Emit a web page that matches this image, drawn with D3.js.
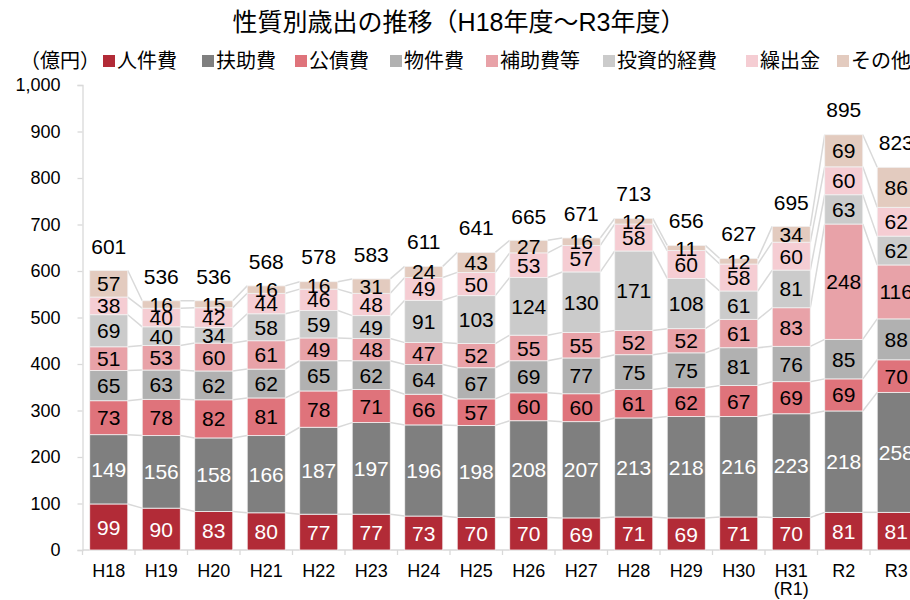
<!DOCTYPE html>
<html><head><meta charset="utf-8">
<script src="https://cdn.jsdelivr.net/npm/d3@7"></script>
<style>
html,body{margin:0;padding:0;background:#fff;overflow:hidden;}
text{font-family:"Liberation Sans","Noto Sans CJK JP",Arial,sans-serif;fill:#000;}
</style></head>
<body><svg id="chart" width="910" height="600"></svg>
<script>
const categories = ["H18","H19","H20","H21","H22","H23","H24","H25","H26","H27","H28","H29","H30","H31\n(R1)","R2","R3"];
const seriesNames = ["人件費","扶助費","公債費","物件費","補助費等","投資的経費","繰出金","その他"];
const jinkenhi   = [99,90,83,80,77,77,73,70,70,69,71,69,71,70,81,81];
const fujohi     = [149,156,158,166,187,197,196,198,208,207,213,218,216,223,218,258];
const kosaihi    = [73,78,82,81,78,71,66,57,60,60,61,62,67,69,69,70];
const bukkenhi   = [65,63,62,62,65,62,64,67,69,77,75,75,81,76,85,88];
const hojohi     = [51,53,60,61,49,48,47,52,55,55,52,52,61,83,248,116];
const toshiteki  = [69,40,34,58,59,49,91,103,124,130,171,108,61,81,63,62];
const kuridashi  = [38,40,42,44,46,48,49,50,53,57,58,60,58,60,60,62];
const sonota     = [57,16,15,16,16,31,24,43,27,16,12,11,12,34,69,86];
const totals     = [601,536,536,568,578,583,611,641,665,671,713,656,627,695,895,823];
const yTicks     = [0,100,200,300,400,500,600,700,800,900,1000];

const seriesValues = [jinkenhi,fujohi,kosaihi,bukkenhi,hojohi,toshiteki,kuridashi,sonota];
const colors = ["#b22b37","#7f7f7f","#df737b","#b1b1b1","#e8a2a8","#cbcbcb","#f5cdd3","#e3cbbf"];
const labelColors = ["#fff","#fff","#000","#000","#000","#000","#000","#000"];

const svg = d3.select("#chart");
const mLeft = 82.5, mTop = 85, mBottom = 550;
const step = 52.5;
const x = d3.scaleBand().domain(categories).range([mLeft, mLeft + step*categories.length]).paddingInner(0.275).paddingOuter(0.1375);
const y = d3.scaleLinear().domain([0,1000]).range([mBottom, mTop]);

// stack data
const rows = categories.map((c,i) => {
  const o = {cat:c};
  seriesNames.forEach((s,k) => o[s] = seriesValues[k][i]);
  return o;
});
const stacked = d3.stack().keys(seriesNames)(rows);

// axes
const yAxis = svg.append("g").attr("transform", `translate(${mLeft},0)`)
  .call(d3.axisLeft(y).tickValues(yTicks).tickFormat(d3.format(",")).tickSize(5).tickPadding(17));
yAxis.selectAll("path,line").attr("stroke","#d9d9d9").attr("stroke-width",1.3);
yAxis.selectAll("text").attr("font-size",18).style("fill","#000");

const xg = svg.append("g").attr("transform", `translate(0,${mBottom})`);
xg.append("line").attr("x1",mLeft).attr("x2",910).attr("y1",0).attr("y2",0).attr("stroke","#d9d9d9").attr("stroke-width",1.3);
const bounds = categories.map((c,i)=> x(c) - x.step()*x.paddingInner()/2).concat([x(categories[categories.length-1]) + x.bandwidth() + x.step()*x.paddingInner()/2]);
xg.selectAll(".tk").data(bounds).join("line").attr("x1",d=>d).attr("x2",d=>d).attr("y1",0).attr("y2",5).attr("stroke","#d9d9d9").attr("stroke-width",1.3);
const xl = xg.selectAll(".xl").data(categories).join("text")
  .attr("text-anchor","middle").attr("font-size",18)
  .attr("x", d => x(d) + x.bandwidth()/2).attr("y", 27);
xl.each(function(d){
  const t = d3.select(this);
  d.split("\n").forEach((line,j)=>{
    t.append("tspan").attr("x", x(d)+x.bandwidth()/2).attr("dy", j===0?0:18).text(line);
  });
});

// connector lines
const conn = svg.append("g");
stacked.forEach(layer => {
  for (let i = 0; i < categories.length - 1; i++) {
    conn.append("line")
      .attr("x1", x(categories[i]) + x.bandwidth()).attr("y1", y(layer[i][1]))
      .attr("x2", x(categories[i+1])).attr("y2", y(layer[i+1][1]))
      .attr("stroke","#d9d9d9").attr("stroke-width",1.5);
  }
});

// bars
const gBars = svg.append("g");
stacked.forEach((layer,k) => {
  gBars.selectAll(null).data(layer).join("rect")
    .attr("x", (d,i) => x(categories[i]))
    .attr("width", x.bandwidth())
    .attr("y", d => y(d[1]))
    .attr("height", d => y(d[0]) - y(d[1]))
    .attr("fill", colors[k])
    .attr("stroke","#f2f2f2").attr("stroke-width",0.8);
});

// segment labels
stacked.forEach((layer,k) => {
  gBars.selectAll(null).data(layer).join("text")
    .attr("x", (d,i) => x(categories[i]) + x.bandwidth()/2)
    .attr("y", d => (y(d[0]) + y(d[1]))/2)
    .attr("dy","0.36em")
    .attr("text-anchor","middle").attr("font-size",21)
    .style("fill", labelColors[k])
    .text((d,i) => seriesValues[k][i]);
});

// totals
svg.append("g").selectAll("text").data(totals).join("text")
  .attr("x", (d,i) => x(categories[i]) + x.bandwidth()/2)
  .attr("y", d => y(d) - 17)
  .attr("text-anchor","middle").attr("font-size",21)
  .text(d => d);

// title
svg.append("text").attr("x",459).attr("y",31).attr("text-anchor","middle").attr("font-size",25)
  .text("性質別歳出の推移（H18年度～R3年度）");

// unit label
svg.append("text").attr("x",20).attr("y",68).attr("font-size",20).text("（億円）");

// legend (item positions follow the reference layout)
const legendX = [103, 202, 295, 390, 486, 603, 746, 837];
const lg = svg.append("g");
seriesNames.forEach((s,k) => {
  lg.append("rect").attr("x",legendX[k]).attr("y",55).attr("width",12).attr("height",12).attr("fill",colors[k]);
  lg.append("text").attr("x", legendX[k]+14).attr("y",68).attr("font-size",20).text(s);
});
</script></body></html>
